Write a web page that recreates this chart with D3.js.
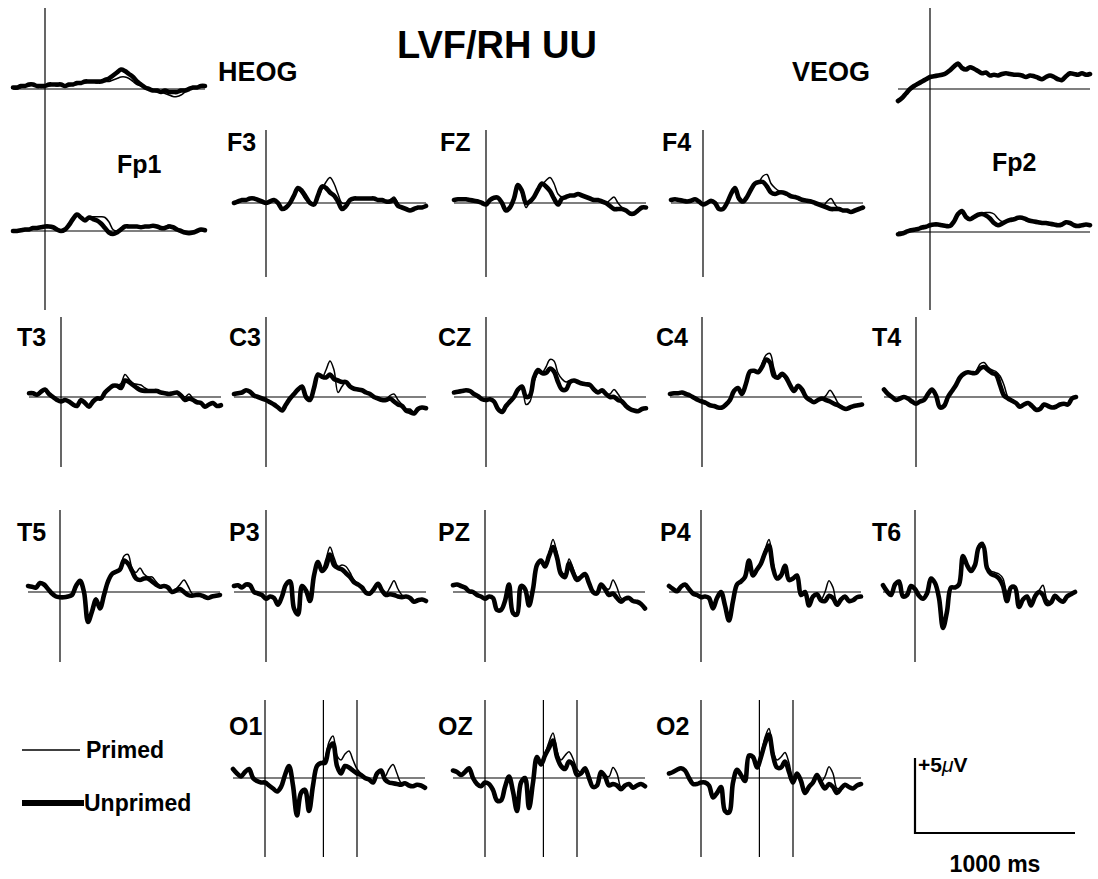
<!DOCTYPE html>
<html>
<head>
<meta charset="utf-8">
<script src="https://cdn.jsdelivr.net/npm/d3@7"></script>
<style>
  body { margin: 0; background: #fff; }
  text { font-family: "Liberation Sans", Arial, sans-serif; font-weight: bold; fill: #000; }
</style>
</head>
<body>
<div id="my_dataviz"></div>
<script>
// sample times (ms) for every waveform
var times = [-200,-175,-150,-125,-100,-75,-50,-25,0,
  25,50,75,100,125,150,175,200,
  225,250,275,300,325,350,375,400,
  425,450,475,500,525,550,575,600,
  625,650,675,700,725,750,775,800,
  825,850,875,900,925,950,975,1000];

var channels = ['HEOG','VEOG','Fp1','F3','FZ','F4','Fp2','T3','C3','CZ','C4','T4','T5','P3','PZ','P4','T6','O1','OZ','O2'];
var seriesNames = ['Primed','Unprimed'];
var markerTimes = [365, 575];   // extra lines in the O row
var scaleBar = {ms: 1000, uv: 5};

// amplitudes in microvolts, positive up
var HEOG_u = [0.1,0.1,0.2,0.2,0.3,0.3,0.2,0.2,0.2, 0.3,0.3,0.3,0.3,0.2,0.3,0.3,0.4, 0.4,0.5,0.5,0.5,0.5,0.5,0.6,0.7, 0.9,1.1,1.3,1.2,1.0,0.8,0.5,0.3, 0.1,0.0,-0.1,-0.1,-0.2,-0.1,-0.2,-0.2, -0.2,-0.1,-0.1,0.0,0.1,0.1,0.2,0.2];
var HEOG_p = [0.1,0.0,0.1,0.2,0.2,0.3,0.2,0.1,0.2, 0.2,0.3,0.2,0.3,0.2,0.2,0.3,0.3, 0.4,0.4,0.5,0.5,0.4,0.5,0.5,0.5, 0.6,0.7,0.8,0.8,0.7,0.5,0.3,0.2, 0.1,0.0,-0.1,-0.2,-0.2,-0.3,-0.4,-0.5, -0.5,-0.4,-0.2,0.0,0.1,0.1,0.2,0.2];
var VEOG_u = [-0.8,-0.6,-0.3,0.0,0.2,0.35,0.5,0.65,0.8, 0.85,0.9,0.95,1.05,1.25,1.5,1.7,1.4, 1.3,1.45,1.35,1.2,1.05,1.1,0.9,0.95, 0.9,1.0,1.05,1.0,0.95,0.95,0.9,0.8, 0.9,0.85,0.75,0.65,0.8,0.9,0.8,0.65, 0.6,0.85,1.05,1.0,0.95,1.05,0.95,1.0];
var VEOG_p = [-0.7,-0.6,-0.4,-0.1,0.1,0.3,0.5,0.6,0.75, 0.8,0.85,0.9,1.0,1.2,1.45,1.6,1.45, 1.35,1.4,1.3,1.15,1.0,1.05,0.95,0.9, 0.85,0.95,1.0,1.0,0.9,0.9,0.85,0.8, 0.85,0.8,0.7,0.7,0.75,0.85,0.75,0.7, 0.65,0.8,0.95,0.95,0.9,1.0,0.9,0.95];
var Fp1_u = [0.0,0.0,0.05,0.1,0.1,0.2,0.2,0.25,0.3, 0.3,0.25,0.1,0.0,0.1,0.4,0.8,1.1, 0.9,0.7,0.9,0.8,0.7,0.5,0.2,-0.1, -0.2,-0.1,0.1,0.3,0.3,0.3,0.3,0.25, 0.3,0.3,0.35,0.3,0.2,0.2,0.3,0.25, 0.1,0.0,-0.1,-0.15,-0.1,0.0,0.1,0.05];
var Fp1_p = [0.0,0.05,0.05,0.1,0.15,0.2,0.15,0.25,0.3, 0.25,0.2,0.1,0.05,0.1,0.35,0.7,1.0, 0.8,0.8,0.95,0.95,0.95,0.95,0.9,0.6, 0.1,0.0,0.2,0.3,0.35,0.3,0.3,0.3, 0.3,0.35,0.3,0.35,0.25,0.3,0.4,0.3, 0.15,0.0,-0.05,-0.1,-0.1,0.0,0.1,0.1];
var F3_u = [0.0,0.1,0.2,0.2,0.3,0.3,0.2,0.1,0.0, 0.1,0.2,0.0,-0.4,-0.3,0.0,0.5,1.0, 0.8,0.4,0.0,-0.1,0.5,1.1,1.0,0.7, 0.5,0.1,-0.4,-0.2,0.2,0.3,0.3,0.3, 0.3,0.3,0.3,0.2,0.2,0.1,0.1,0.2, -0.2,-0.3,-0.4,-0.5,-0.4,-0.3,-0.3,-0.2];
var F3_p = [0.0,0.1,0.15,0.25,0.3,0.25,0.2,0.1,0.05, 0.1,0.15,0.0,-0.35,-0.3,0.1,0.6,0.9, 0.6,0.2,0.1,0.0,0.4,0.9,1.4,1.7, 1.3,0.6,0.0,0.0,0.2,0.3,0.35,0.3, 0.3,0.3,0.25,0.2,0.15,0.1,0.2,0.4, 0.0,-0.3,-0.35,-0.45,-0.4,-0.3,-0.25,-0.2];
var FZ_u = [0.2,0.25,0.25,0.25,0.2,0.15,0.1,0.0,-0.1, 0.2,0.35,0.35,0.0,-0.5,-0.3,0.3,1.2, 0.8,0.0,0.1,0.4,0.9,1.3,1.1,0.8, 0.3,-0.1,0.3,0.4,0.5,0.5,0.6,0.5, 0.4,0.3,0.2,0.2,0.1,0.0,-0.2,-0.4, -0.4,-0.4,-0.5,-0.7,-0.7,-0.5,-0.3,-0.3];
var FZ_p = [0.2,0.2,0.3,0.25,0.2,0.1,0.1,0.0,-0.05, 0.15,0.3,0.35,0.05,-0.45,-0.3,0.3,1.1, 0.6,-0.3,0.1,0.4,0.8,1.2,1.5,1.7, 1.3,0.6,0.4,0.45,0.5,0.55,0.6,0.5, 0.4,0.3,0.25,0.2,0.1,0.0,0.2,0.4, 0.0,-0.3,-0.5,-0.65,-0.7,-0.5,-0.35,-0.3];
var F4_u = [0.2,0.25,0.2,0.15,0.1,0.15,0.25,0.1,-0.1, 0.0,0.15,0.0,-0.4,-0.4,0.0,0.6,1.0, 0.3,0.1,0.4,0.9,1.3,1.4,1.4,1.1, 0.7,0.6,0.7,0.7,0.6,0.45,0.4,0.3, 0.2,0.15,0.1,0.0,-0.1,-0.2,-0.3,-0.4, -0.4,-0.4,-0.5,-0.5,-0.6,-0.5,-0.4,-0.3];
var F4_p = [0.2,0.2,0.25,0.15,0.1,0.1,0.2,0.1,-0.05, 0.0,0.1,0.0,-0.35,-0.4,0.05,0.5,0.9, 0.3,0.1,0.4,0.85,1.2,1.4,1.8,1.9, 1.3,1.0,0.8,0.7,0.6,0.5,0.4,0.3, 0.25,0.15,0.1,0.0,-0.1,-0.2,0.1,0.3, -0.1,-0.4,-0.45,-0.5,-0.55,-0.5,-0.4,-0.3];
var Fp2_u = [-0.15,-0.1,0.0,0.1,0.15,0.2,0.3,0.35,0.45, 0.5,0.5,0.45,0.4,0.4,0.7,1.2,1.4, 1.0,0.85,1.0,1.15,1.2,1.1,0.9,0.6, 0.45,0.55,0.7,0.8,0.85,0.95,0.95,0.85, 0.75,0.7,0.65,0.6,0.6,0.55,0.5,0.45, 0.5,0.65,0.6,0.45,0.4,0.45,0.5,0.45];
var Fp2_p = [-0.1,-0.05,0.0,0.1,0.2,0.25,0.3,0.4,0.45, 0.45,0.5,0.45,0.4,0.45,0.7,1.1,1.35, 1.0,0.9,1.05,1.15,1.25,1.3,1.3,1.2, 0.9,0.7,0.75,0.8,0.85,0.9,0.9,0.85, 0.75,0.7,0.65,0.6,0.55,0.55,0.5,0.5, 0.55,0.7,0.6,0.5,0.45,0.5,0.55,0.5];
var T3_u = [0.25,0.25,0.15,0.35,0.5,0.2,0.0,-0.2,-0.3, -0.2,-0.3,-0.5,-0.6,-0.2,-0.4,-0.65,-0.3, -0.1,-0.1,0.3,0.55,0.75,0.75,0.6,1.1, 1.0,0.8,0.6,0.45,0.4,0.4,0.4,0.4, 0.3,0.25,0.2,0.25,0.3,0.1,-0.2,-0.1, -0.2,-0.35,-0.4,-0.65,-0.5,-0.4,-0.6,-0.55];
var T3_p = [0.3,0.2,0.2,0.4,0.45,0.15,0.0,-0.15,-0.3, -0.25,-0.3,-0.45,-0.55,-0.25,-0.4,-0.6,-0.35, -0.15,-0.05,0.3,0.5,0.7,0.75,0.9,1.5, 1.2,0.9,0.85,0.8,0.6,0.45,0.4,0.4, 0.3,0.25,0.2,0.25,0.3,0.15,0.0,0.2, -0.1,-0.3,-0.4,-0.6,-0.5,-0.45,-0.55,-0.5];
var C3_u = [0.2,0.25,0.3,0.45,0.35,0.1,0.0,-0.1,-0.2, -0.35,-0.5,-0.7,-0.9,-0.5,-0.1,0.2,0.5, 0.7,0.0,-0.2,0.6,1.5,1.35,1.3,1.5, 1.2,1.1,1.0,1.0,0.7,0.55,0.5,0.45, 0.3,0.2,0.0,-0.1,-0.2,-0.2,-0.1,-0.3, -0.5,-0.6,-0.9,-1.0,-1.1,-0.8,-0.7,-0.75];
var C3_p = [0.25,0.2,0.35,0.4,0.3,0.1,-0.05,-0.1,-0.25, -0.3,-0.45,-0.65,-0.85,-0.55,-0.15,0.25,0.45, 0.65,0.0,-0.15,0.5,1.4,1.3,1.8,2.4, 1.8,0.3,0.7,1.0,0.75,0.6,0.5,0.4, 0.3,0.15,0.0,-0.1,-0.15,-0.2,0.1,0.2, -0.2,-0.5,-0.8,-0.8,-1.0,-0.85,-0.7,-0.7];
var CZ_u = [0.3,0.35,0.4,0.45,0.4,0.2,0.05,-0.15,-0.2, -0.15,-0.3,-0.8,-1.0,-0.6,-0.3,0.0,0.5, 0.7,0.0,0.1,1.3,1.8,1.6,1.6,1.9, 1.7,1.0,0.5,0.5,1.0,1.1,1.0,0.9, 0.85,0.8,0.5,0.3,0.45,0.2,0.0,0.0, -0.2,-0.3,-0.6,-0.8,-0.9,-0.95,-0.8,-0.75];
var CZ_p = [0.35,0.3,0.4,0.4,0.35,0.2,0.0,-0.1,-0.2, -0.2,-0.35,-0.75,-0.95,-0.65,-0.3,0.05,0.45, 0.6,-0.5,-0.3,1.0,1.6,1.6,2.0,2.5, 2.4,1.6,1.2,1.0,1.1,1.05,0.95,0.9, 0.8,0.75,0.5,0.35,0.4,0.2,0.2,0.5, 0.2,-0.2,-0.55,-0.8,-0.85,-0.9,-0.8,-0.7];
var C4_u = [0.2,0.25,0.25,0.3,0.2,0.1,-0.05,-0.2,-0.3, -0.4,-0.55,-0.6,-0.7,-0.7,-0.5,-0.2,0.4, 0.6,0.2,0.9,1.7,1.75,1.65,2.0,2.5, 2.3,1.4,1.3,1.55,1.3,0.8,0.4,0.75, 0.5,0.0,-0.2,-0.35,-0.2,-0.1,-0.2,-0.3, -0.45,-0.55,-0.7,-0.8,-0.7,-0.6,-0.55,-0.5];
var C4_p = [0.25,0.2,0.3,0.25,0.2,0.05,-0.05,-0.2,-0.35, -0.45,-0.5,-0.65,-0.65,-0.75,-0.45,-0.15,0.35, 0.55,0.25,0.85,1.6,1.7,1.6,2.2,2.8, 2.9,1.9,1.2,1.4,1.2,0.7,0.45,0.7, 0.45,0.05,-0.15,-0.3,-0.25,-0.15,0.1,0.45, 0.1,-0.4,-0.65,-0.75,-0.7,-0.6,-0.5,-0.5];
var T4_u = [0.5,0.2,0.0,-0.2,-0.1,0.0,-0.1,-0.3,-0.45, -0.3,-0.2,0.2,0.5,0.1,-0.7,-0.6,0.0, 0.4,0.8,1.3,1.55,1.65,1.6,1.6,1.9, 2.0,1.8,1.6,1.5,0.8,0.1,-0.1,-0.25, -0.4,-0.65,-0.5,-0.4,-0.6,-0.85,-0.8,-0.5, -0.6,-0.7,-0.65,-0.5,-0.45,-0.5,-0.1,0.0];
var T4_p = [0.45,0.25,0.05,-0.15,-0.1,-0.05,-0.1,-0.25,-0.4, -0.35,-0.25,0.15,0.45,0.15,-0.6,-0.55,-0.05, 0.35,0.75,1.25,1.5,1.6,1.55,1.7,2.2, 2.3,2.0,1.8,1.7,1.4,0.8,0.0,-0.2, -0.35,-0.55,-0.45,-0.4,-0.55,-0.8,-0.7,-0.45, -0.55,-0.65,-0.6,-0.5,-0.4,-0.45,-0.15,0.0];
var T5_u = [0.4,0.35,0.3,0.6,0.5,0.2,-0.1,-0.3,-0.35, -0.35,-0.3,-0.2,0.4,0.75,0.0,-2.0,-1.3, -0.5,-1.1,-0.2,0.7,1.2,1.35,1.5,2.1, 1.9,1.4,0.9,0.8,0.9,0.9,0.7,0.5, 0.35,0.4,0.3,0.0,0.1,0.2,0.0,-0.2, -0.25,-0.2,-0.2,-0.3,-0.4,-0.3,-0.25,-0.2];
var T5_p = [0.45,0.3,0.35,0.55,0.45,0.15,-0.1,-0.25,-0.3, -0.3,-0.3,-0.15,0.35,0.7,0.05,-1.8,-1.2, -0.4,-0.9,-0.1,0.65,1.15,1.3,1.6,2.4, 2.5,1.6,1.3,1.6,1.2,1.0,1.0,0.7, 0.4,0.35,0.3,0.05,0.2,0.5,0.8,0.4, -0.1,-0.2,-0.15,-0.3,-0.35,-0.3,-0.2,-0.2];
var P3_u = [0.4,0.45,0.3,0.5,0.45,0.0,-0.1,-0.2,-0.45, -0.3,-0.4,-0.85,-0.3,0.5,0.7,-1.1,-1.5, 0.4,0.1,-0.6,1.1,2.0,1.4,1.7,2.5, 1.8,1.6,1.5,1.25,1.0,0.65,0.5,0.3, -0.05,-0.1,0.2,0.55,0.1,-0.2,-0.15,-0.2, -0.3,-0.35,-0.3,-0.4,-0.65,-0.55,-0.5,-0.6];
var P3_p = [0.45,0.4,0.35,0.45,0.4,0.05,-0.1,-0.25,-0.4, -0.35,-0.35,-0.8,-0.35,0.45,0.65,-1.0,-1.4, 0.35,0.15,-0.5,1.0,1.9,1.5,2.2,3.0, 2.3,1.7,1.8,1.7,1.3,0.8,0.55,0.35, 0.0,-0.1,0.2,0.5,0.15,-0.1,0.3,0.75, 0.2,-0.2,-0.3,-0.35,-0.6,-0.5,-0.45,-0.55];
var PZ_u = [0.45,0.5,0.4,0.3,0.05,0.0,-0.2,-0.3,-0.45, -0.3,-0.4,-1.2,-1.2,-0.6,0.5,-1.4,-1.5, 0.4,0.2,-0.9,0.2,1.8,2.1,1.7,2.4, 3.0,2.3,1.2,1.0,1.9,1.3,0.8,1.0, 1.2,0.6,0.0,-0.1,0.5,0.2,-0.2,-0.1, -0.4,-0.65,-0.45,-0.4,-0.6,-0.65,-0.8,-1.1];
var PZ_p = [0.5,0.45,0.35,0.3,0.1,-0.05,-0.2,-0.35,-0.4, -0.35,-0.45,-1.15,-1.15,-0.55,0.45,-1.35,-1.4, 0.35,0.15,-0.8,0.25,1.75,2.0,1.8,2.6, 3.5,2.6,1.4,1.2,2.2,1.6,1.0,1.05, 1.15,0.65,0.05,-0.05,0.45,0.25,0.2,0.8, 0.3,-0.4,-0.45,-0.4,-0.55,-0.6,-0.75,-1.0];
var P4_u = [0.4,0.2,0.05,0.35,0.5,0.2,-0.1,-0.2,-0.35, -0.3,-0.4,-1.1,-0.4,0.0,-0.9,-1.9,-0.6, 0.5,0.7,1.0,2.1,1.1,1.5,1.9,2.6, 3.1,1.6,0.9,1.1,1.75,0.8,0.9,1.1, -0.2,0.0,-0.9,-0.3,-0.15,-0.55,-0.6,-0.25, -0.4,-0.85,-0.5,-0.3,-0.6,-0.55,-0.35,-0.3];
var P4_p = [0.35,0.25,0.0,0.4,0.45,0.15,-0.1,-0.25,-0.3, -0.35,-0.35,-1.05,-0.45,0.05,-0.85,-1.8,-0.55, 0.45,0.65,1.05,2.0,1.15,1.45,2.0,2.8, 3.5,2.0,1.0,1.1,1.7,0.85,0.85,1.05, -0.15,0.05,-0.85,-0.35,-0.1,-0.5,0.0,0.75, 0.3,-0.7,-0.5,-0.3,-0.55,-0.5,-0.3,-0.3];
var T6_u = [0.45,0.05,-0.2,0.5,0.7,-0.3,-0.2,0.4,0.2, -0.25,-0.45,-0.1,0.9,0.6,-0.4,-2.4,-1.3, 0.3,0.3,0.5,2.4,1.8,1.4,1.8,3.0, 3.1,1.6,1.2,1.1,0.9,0.4,-0.6,0.3, 0.3,-1.0,-0.5,-0.3,-0.9,-0.3,0.0,-0.2, -0.8,-0.7,-0.25,-0.5,-0.65,-0.3,-0.15,0.0];
var T6_p = [0.4,0.1,-0.15,0.45,0.65,-0.25,-0.15,0.35,0.15, -0.2,-0.4,-0.05,0.85,0.55,-0.35,-2.2,-1.2, 0.25,0.25,0.55,2.3,1.7,1.4,1.9,3.2, 3.3,1.8,1.4,1.3,1.2,0.9,0.0,0.35, 0.3,-0.9,-0.45,-0.25,-0.8,-0.25,0.1,0.45, -0.5,-0.65,-0.2,-0.45,-0.6,-0.25,-0.1,0.05];
var O1_u = [0.6,0.3,0.1,0.4,0.6,0.0,-0.2,-0.3,-0.3, -0.5,-0.7,-0.9,-0.6,0.2,0.8,-0.5,-2.5, -1.0,-0.8,-2.2,-0.5,0.8,1.0,1.0,2.0, 2.3,0.8,0.3,0.8,0.7,0.5,0.3,0.2, 0.0,-0.1,-0.3,0.3,0.5,-0.1,-0.3,-0.35, -0.4,-0.45,-0.35,-0.5,-0.55,-0.45,-0.5,-0.65];
var O1_p = [0.55,0.35,0.15,0.35,0.55,0.05,-0.2,-0.25,-0.3, -0.45,-0.65,-0.85,-0.55,0.15,0.75,-0.45,-2.3, -0.9,-0.7,-2.0,-0.4,0.75,1.0,1.3,2.4, 2.8,1.5,1.2,1.6,1.8,1.2,0.6,0.3, 0.05,-0.05,-0.25,0.3,0.45,0.1,0.6,0.9, 0.3,-0.3,-0.3,-0.45,-0.5,-0.4,-0.45,-0.6];
var OZ_u = [0.5,0.4,0.2,0.4,0.65,0.0,-0.4,-0.55,-0.3, -0.4,-0.8,-1.5,-1.5,-0.6,0.1,-0.9,-2.2, -0.3,0.0,-2.0,-0.3,1.4,0.9,1.5,2.0, 2.5,1.4,0.8,0.6,1.1,0.9,0.2,0.3, 0.65,0.0,-0.6,-0.5,0.4,0.1,-0.5,-0.4, -0.5,-0.75,-0.5,-0.4,-0.65,-0.5,-0.4,-0.55];
var OZ_p = [0.45,0.45,0.25,0.35,0.6,0.05,-0.35,-0.5,-0.3, -0.45,-0.75,-1.45,-1.45,-0.55,0.1,-0.85,-2.1, -0.25,0.0,-1.9,-0.25,1.3,0.9,1.6,2.4, 3.0,1.8,1.2,1.5,1.75,1.3,0.6,0.35, 0.6,0.05,-0.55,-0.45,0.4,0.15,0.1,0.7, 0.3,-0.6,-0.45,-0.4,-0.6,-0.45,-0.4,-0.5];
var O2_u = [0.3,0.4,0.55,0.65,0.5,0.0,-0.4,-0.4,-0.3, -0.3,-0.5,-1.3,-1.0,-0.6,-2.2,-2.3,-0.3, 0.55,0.2,-0.2,1.5,1.4,0.7,1.4,2.3, 2.9,1.5,0.7,0.7,1.1,0.4,-0.3,0.3, -0.2,-1.0,-0.6,-0.3,0.2,-0.3,-0.7,-0.4, -0.6,-1.0,-0.7,-0.45,-0.6,-0.7,-0.5,-0.4];
var O2_p = [0.35,0.4,0.5,0.6,0.5,0.05,-0.35,-0.4,-0.3, -0.35,-0.45,-1.25,-0.95,-0.55,-2.1,-2.2,-0.25, 0.5,0.2,-0.15,1.45,1.35,0.75,1.6,2.7, 3.3,1.8,1.2,1.4,1.7,1.0,0.0,0.3, -0.15,-0.95,-0.55,-0.25,0.2,-0.25,0.1,0.75, 0.3,-0.7,-0.65,-0.4,-0.55,-0.65,-0.45,-0.35];

// primed / unprimed pairs per channel
var waves = {
  HEOG: [HEOG_p, HEOG_u], VEOG: [VEOG_p, VEOG_u], Fp1: [Fp1_p, Fp1_u], F3: [F3_p, F3_u],
  FZ: [FZ_p, FZ_u], F4: [F4_p, F4_u], Fp2: [Fp2_p, Fp2_u], T3: [T3_p, T3_u],
  C3: [C3_p, C3_u], CZ: [CZ_p, CZ_u], C4: [C4_p, C4_u], T4: [T4_p, T4_u],
  T5: [T5_p, T5_u], P3: [P3_p, P3_u], PZ: [PZ_p, PZ_u], P4: [P4_p, P4_u],
  T6: [T6_p, T6_u], O1: [O1_p, O1_u], OZ: [OZ_p, OZ_u], O2: [O2_p, O2_u]
};

// where each panel sits: onset x, baseline y, label pos, vertical line span
var layout = {
  HEOG: {x: 45,  y: 89,  lx: 218, ly: 81,  v: [8, 160], fs: 27},
  VEOG: {x: 930, y: 89,  lx: 792, ly: 81,  v: [8, 160], fs: 27},
  Fp1:  {x: 45,  y: 231, lx: 117, ly: 173, v: [160, 310]},
  F3:   {x: 266, y: 203, lx: 227, ly: 151, v: [130, 277]},
  FZ:   {x: 486, y: 203, lx: 440, ly: 151, v: [130, 277]},
  F4:   {x: 703, y: 203, lx: 662, ly: 151, v: [130, 277]},
  Fp2:  {x: 930, y: 232, lx: 992, ly: 171, v: [160, 310]},
  T3:   {x: 61,  y: 397, lx: 17,  ly: 346, v: [317, 467]},
  C3:   {x: 266, y: 397, lx: 229, ly: 346, v: [317, 467]},
  CZ:   {x: 486, y: 397, lx: 438, ly: 346, v: [317, 467]},
  C4:   {x: 702, y: 397, lx: 656, ly: 346, v: [317, 467]},
  T4:   {x: 916, y: 397, lx: 872, ly: 346, v: [317, 467]},
  T5:   {x: 60,  y: 592, lx: 17,  ly: 541, v: [510, 662]},
  P3:   {x: 266, y: 592, lx: 229, ly: 541, v: [510, 662]},
  PZ:   {x: 485, y: 592, lx: 438, ly: 541, v: [510, 662]},
  P4:   {x: 701, y: 592, lx: 660, ly: 541, v: [510, 662]},
  T6:   {x: 915, y: 592, lx: 872, ly: 541, v: [510, 662]},
  O1:   {x: 265, y: 778, lx: 229, ly: 735, v: [700, 857], markers: true},
  OZ:   {x: 485, y: 778, lx: 438, ly: 735, v: [700, 857], markers: true},
  O2:   {x: 701, y: 778, lx: 656, ly: 735, v: [700, 857], markers: true}
};

var pxPerMs = 0.16, pxPerUv = 15;
var width = 1098, height = 879;

var svg = d3.select("#my_dataviz")
  .append("svg")
    .attr("width", width)
    .attr("height", height)
    .style("background", "#fff");

// title
svg.append("text")
  .attr("x", 497).attr("y", 58)
  .attr("text-anchor", "middle")
  .style("font-size", "38px")
  .text("LVF/RH UU");

var strokes = {Primed: 1.5, Unprimed: 4.6};

channels.forEach(function(name) {
  var L = layout[name];
  var xScale = d3.scaleLinear()
    .domain([0, 1000])
    .range([L.x, L.x + 1000 * pxPerMs]);
  var yScale = d3.scaleLinear()
    .domain([0, 5])
    .range([L.y, L.y - 5 * pxPerUv]);

  var g = svg.append("g").attr("class", "panel");

  // baseline
  g.append("line")
    .attr("x1", xScale(times[0])).attr("x2", xScale(times[times.length - 1]))
    .attr("y1", yScale(0)).attr("y2", yScale(0))
    .attr("stroke", "#000").attr("stroke-width", 1.2);

  // stimulus onset line (plus the two markers in the O row)
  var vt = [0].concat(L.markers ? markerTimes : []);
  g.selectAll(".vline")
    .data(vt)
    .enter().append("line")
      .attr("class", "vline")
      .attr("x1", function(d) { return xScale(d); })
      .attr("x2", function(d) { return xScale(d); })
      .attr("y1", L.v[0]).attr("y2", L.v[1])
      .attr("stroke", "#000").attr("stroke-width", 1.2);

  var line = d3.line()
    .x(function(d, i) { return xScale(times[i]); })
    .y(function(d) { return yScale(d); })
    .curve(d3.curveCatmullRom.alpha(0.5));

  // unprimed (thick) first, primed (thin) on top
  [1, 0].forEach(function(k) {
    g.append("path")
      .attr("d", line(waves[name][k]))
      .attr("fill", "none")
      .attr("stroke", "#000")
      .attr("stroke-linejoin", "round")
      .attr("stroke-linecap", "round")
      .attr("stroke-width", strokes[seriesNames[k]]);
  });

  g.append("text")
    .attr("x", L.lx).attr("y", L.ly)
    .style("font-size", (L.fs || 25) + "px")
    .text(name);
});

// legend
var legend = svg.append("g");
var legendY = {Primed: 750, Unprimed: 803};
seriesNames.forEach(function(s) {
  legend.append("line")
    .attr("x1", 22).attr("x2", s === "Primed" ? 80 : 84)
    .attr("y1", legendY[s]).attr("y2", legendY[s])
    .attr("stroke", "#000")
    .attr("stroke-width", s === "Primed" ? 1.5 : 6);
  legend.append("text")
    .attr("x", s === "Primed" ? 86 : 84)
    .attr("y", legendY[s] + 8)
    .style("font-size", "23px")
    .text(s);
});

// scale bar, drawn with the same px per ms / uV as the panels
var sbX = d3.scaleLinear().domain([0, scaleBar.ms]).range([915, 915 + scaleBar.ms * pxPerMs]);
var sbY = d3.scaleLinear().domain([0, scaleBar.uv]).range([833, 833 - scaleBar.uv * pxPerUv]);
svg.append("path")
  .attr("d", "M" + sbX(0) + "," + sbY(scaleBar.uv) + "V" + sbY(0) + "H" + sbX(scaleBar.ms))
  .attr("fill", "none")
  .attr("stroke", "#000")
  .attr("stroke-width", 2.2);

var uvText = svg.append("text")
  .attr("x", 918).attr("y", 772)
  .style("font-size", "21px");
uvText.append("tspan").text("+5");
uvText.append("tspan").style("font-style", "italic").style("font-weight", "normal").text("\u03bc");
uvText.append("tspan").text("V");

svg.append("text")
  .attr("x", 995).attr("y", 872)
  .attr("text-anchor", "middle")
  .style("font-size", "23px")
  .text("1000 ms");
</script>
</body>
</html>
